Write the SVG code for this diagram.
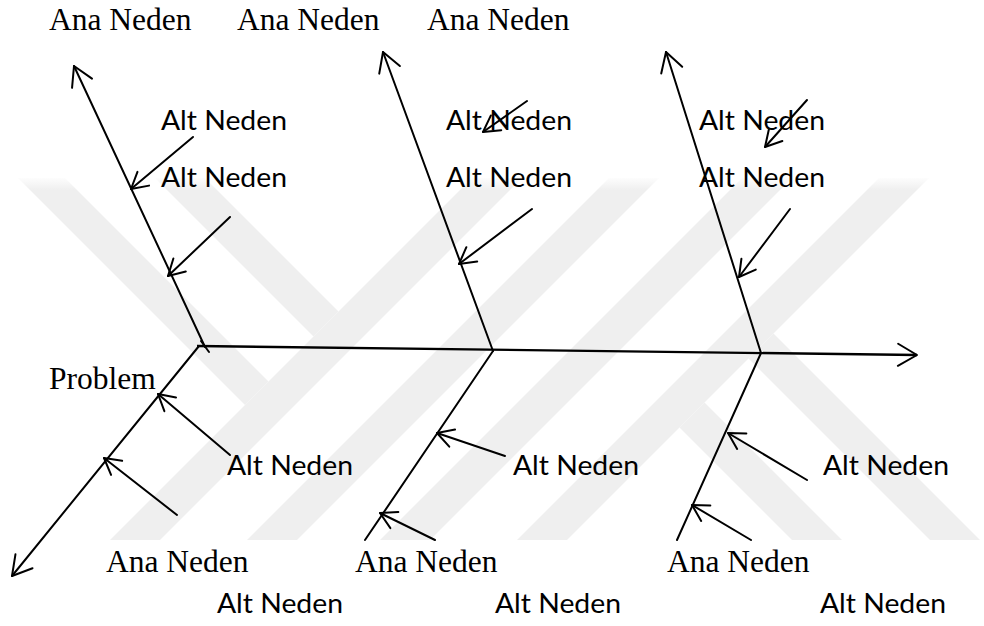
<svg xmlns="http://www.w3.org/2000/svg" width="984" height="626" viewBox="0 0 984 626">
  <style>
    .bone { stroke: #000; stroke-width: 2; fill: none; stroke-linecap: round; }
    .spine { stroke: #000; stroke-width: 2.4; fill: none; }
    .sub { stroke: #000; stroke-width: 2; fill: none; stroke-linecap: round; }
    .serif { font-family: "Liberation Serif", "Times New Roman", serif; font-size: 31.5px; fill: #000; }
    .sans { font-family: Lato, "Open Sans", "Liberation Sans", sans-serif; font-size: 26px; fill: #000; }
    .band { fill: url(#bandFade); }
  </style>
  <defs>
    <marker id="head" markerUnits="userSpaceOnUse" orient="auto" refX="0" refY="0" markerWidth="30" markerHeight="30" viewBox="-25 -15 30 30" overflow="visible">
      <path d="M-19,-11 L0,0 L-19,11" fill="none" stroke="#000" stroke-width="2" stroke-linecap="round" stroke-linejoin="round"/>
    </marker>
    <marker id="headSm" markerUnits="userSpaceOnUse" orient="auto" refX="0" refY="0" markerWidth="30" markerHeight="30" viewBox="-25 -15 30 30" overflow="visible">
      <path d="M-16,-9 L0,0 L-16,9" fill="none" stroke="#000" stroke-width="2" stroke-linecap="round" stroke-linejoin="round"/>
    </marker>
    <linearGradient id="bandFade" gradientUnits="userSpaceOnUse" x1="0" y1="176" x2="0" y2="190">
      <stop offset="0" stop-color="#efefef" stop-opacity="0"/>
      <stop offset="1" stop-color="#efefef" stop-opacity="1"/>
    </linearGradient>
    <clipPath id="markArea">
      <rect x="0" y="176" width="984" height="364"/>
    </clipPath>
  </defs>

  <rect width="984" height="626" fill="#fff"/>

  <!-- light background emblem made of diagonal bands -->
  <g id="emblem" clip-path="url(#markArea)">
    <polygon class="band" points="18,178 65,178 268.5,381.5 245,405"/>
    <polygon class="band" points="155,178 205,178 338.5,311.5 313.5,336.5"/>
    <polygon class="band" points="472,178 522,178 160,540 110,540"/>
    <polygon class="band" points="609,178 659,178 297,540 247,540"/>
    <polygon class="band" points="742,178 792,178 430,540 380,540"/>
    <polygon class="band" points="879,178 929,178 567,540 517,540"/>
    <polygon class="band" points="679.5,427.5 704.5,402.5 842,540 792,540"/>
    <polygon class="band" points="748.5,358.5 773.5,333.5 980,540 930,540"/>
  </g>

  <!-- bones, spine and sub-cause arrows -->
  <g id="connectors">
    <line class="spine" x1="197" y1="346" x2="917" y2="355" marker-end="url(#head)"/>
    <line class="bone" x1="201" y1="341" x2="209" y2="352"/>
    <line class="bone" x1="205" y1="347" x2="74" y2="66" marker-end="url(#head)"/>
    <line class="bone" x1="493" y1="351" x2="383" y2="52" marker-end="url(#head)"/>
    <line class="bone" x1="761" y1="353" x2="666" y2="52" marker-end="url(#head)"/>
    <line class="bone" x1="199" y1="346" x2="12" y2="576" marker-end="url(#head)"/>
    <line class="bone" x1="493" y1="351" x2="365" y2="540"/>
    <line class="bone" x1="761" y1="353" x2="677" y2="540"/>

    <line class="sub" x1="193" y1="137" x2="131" y2="189" marker-end="url(#headSm)"/>
    <line class="sub" x1="230" y1="217" x2="168" y2="276" marker-end="url(#headSm)"/>
    <line class="sub" x1="527" y1="101" x2="483" y2="132" marker-end="url(#headSm)"/>
    <line class="sub" x1="532" y1="209" x2="459" y2="264" marker-end="url(#headSm)"/>
    <line class="sub" x1="807" y1="100" x2="765" y2="147" marker-end="url(#headSm)"/>
    <line class="sub" x1="790" y1="209" x2="739" y2="277" marker-end="url(#headSm)"/>

    <line class="sub" x1="230" y1="455" x2="158" y2="394" marker-end="url(#headSm)"/>
    <line class="sub" x1="177" y1="515" x2="104" y2="458" marker-end="url(#headSm)"/>
    <line class="sub" x1="505" y1="456" x2="437" y2="433" marker-end="url(#headSm)"/>
    <line class="sub" x1="435" y1="540" x2="380" y2="513" marker-end="url(#headSm)"/>
    <line class="sub" x1="807" y1="480" x2="728" y2="433" marker-end="url(#headSm)"/>
    <line class="sub" x1="751" y1="540" x2="692" y2="505" marker-end="url(#headSm)"/>
  </g>

  <!-- main cause labels -->
  <g id="ana-1"><text class="serif" x="49" y="30">Ana Neden</text></g>
  <g id="ana-2"><text class="serif" x="237" y="30">Ana Neden</text></g>
  <g id="ana-3"><text class="serif" x="427" y="30">Ana Neden</text></g>
  <g id="ana-4"><text class="serif" x="106" y="572">Ana Neden</text></g>
  <g id="ana-5"><text class="serif" x="355" y="572">Ana Neden</text></g>
  <g id="ana-6"><text class="serif" x="667" y="572">Ana Neden</text></g>

  <!-- problem label -->
  <g id="problem"><text class="serif" x="49" y="389">Problem</text></g>

  <!-- sub-cause labels -->
  <g id="alt-1"><text class="sans" x="161" y="130" textLength="126" lengthAdjust="spacingAndGlyphs">Alt Neden</text></g>
  <g id="alt-2"><text class="sans" x="161" y="187" textLength="126" lengthAdjust="spacingAndGlyphs">Alt Neden</text></g>
  <g id="alt-3"><text class="sans" x="446" y="130" textLength="126" lengthAdjust="spacingAndGlyphs">Alt Neden</text></g>
  <g id="alt-4"><text class="sans" x="446" y="187" textLength="126" lengthAdjust="spacingAndGlyphs">Alt Neden</text></g>
  <g id="alt-5"><text class="sans" x="699" y="130" textLength="126" lengthAdjust="spacingAndGlyphs">Alt Neden</text></g>
  <g id="alt-6"><text class="sans" x="699" y="187" textLength="126" lengthAdjust="spacingAndGlyphs">Alt Neden</text></g>
  <g id="alt-7"><text class="sans" x="227" y="475" textLength="126" lengthAdjust="spacingAndGlyphs">Alt Neden</text></g>
  <g id="alt-8"><text class="sans" x="513" y="475" textLength="126" lengthAdjust="spacingAndGlyphs">Alt Neden</text></g>
  <g id="alt-9"><text class="sans" x="823" y="475" textLength="126" lengthAdjust="spacingAndGlyphs">Alt Neden</text></g>
  <g id="alt-10"><text class="sans" x="217" y="613" textLength="126" lengthAdjust="spacingAndGlyphs">Alt Neden</text></g>
  <g id="alt-11"><text class="sans" x="495" y="613" textLength="126" lengthAdjust="spacingAndGlyphs">Alt Neden</text></g>
  <g id="alt-12"><text class="sans" x="820" y="613" textLength="126" lengthAdjust="spacingAndGlyphs">Alt Neden</text></g>
</svg>
